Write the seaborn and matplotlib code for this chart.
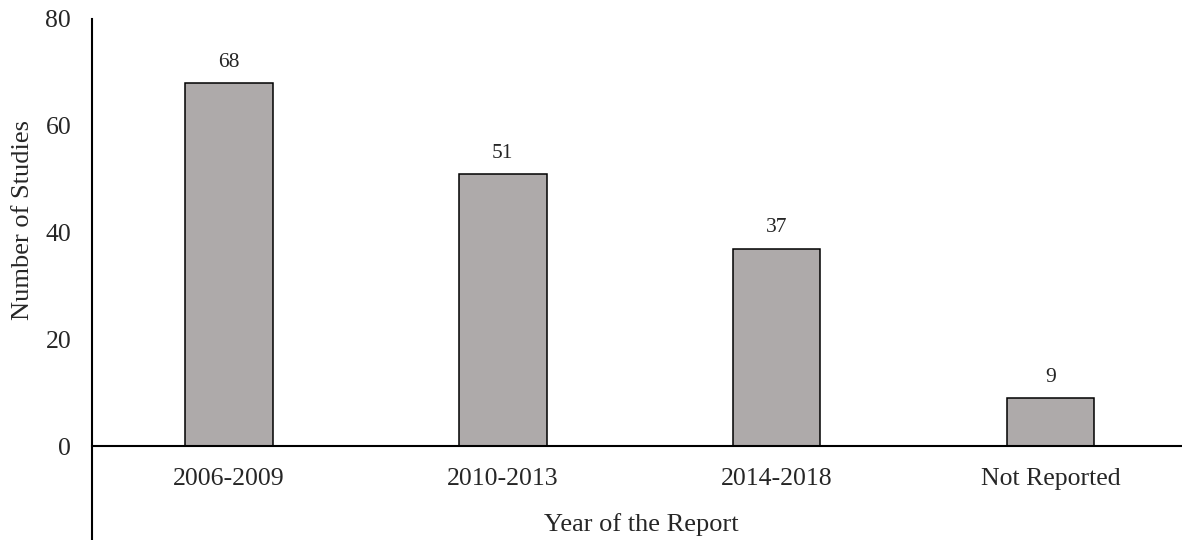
import matplotlib
matplotlib.use("Agg")
import matplotlib.pyplot as plt
import seaborn as sns
import pandas as pd

categories = ["2006-2009", "2010-2013", "2014-2018", "Not Reported"]
studies = [68, 51, 37, 9]
yticks = [0, 20, 40, 60, 80]

sns.set_theme(style="white")
plt.rcParams['font.family'] = ['Liberation Serif', 'DejaVu Serif']

df = pd.DataFrame({"period": categories, "count": studies})

fig = plt.figure(figsize=(11.82, 5.4), dpi=100)
ax = fig.add_axes([92/1182, 0.0, 1090/1182, 1 - 19/540])
sns.barplot(data=df, x="period", y="count", color="#AEAAAA", width=0.32,
            edgecolor="black", linewidth=1.1, saturation=1, ax=ax)
for c in ax.containers:
    ax.bar_label(c, labels=[str(v) for v in studies], padding=8, fontsize=15.5)

ax.set_xlim(-0.5, 3.48)
ax.set_ylim(-17.6, 80)
ax.set_yticks(yticks)
ax.set_yticklabels([str(t) for t in yticks], fontsize=18.5)
ax.tick_params(axis='x', length=0, pad=16, labelsize=18.5)
ax.tick_params(axis='y', length=0, pad=15)
for s in ["top", "right"]:
    ax.spines[s].set_visible(False)
ax.spines["bottom"].set_position(("data", 0))
ax.spines["bottom"].set_linewidth(1.5)
ax.spines["left"].set_linewidth(1.5)
ax.spines["bottom"].set_color("black")
ax.spines["left"].set_color("black")
ax.set_xlabel("")
ax.set_ylabel("")
fig.text(23/1182, 1 - 220/540, "Number of Studies", rotation=90, ha="center", va="center", fontsize=19)
fig.text(641/1182, 1 - 525/540, "Year of the Report", ha="center", va="center", fontsize=19)

fig.savefig("out.png", dpi=100)
